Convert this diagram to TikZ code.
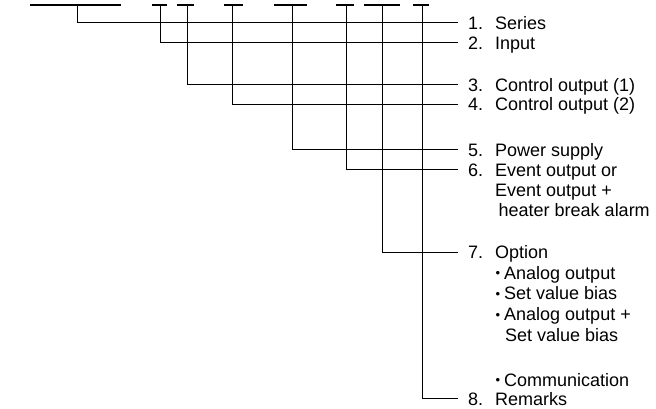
\documentclass[tikz,border=0pt]{standalone}
\usepackage{fontspec}
\setmainfont{Liberation Sans}
\begin{document}
\begin{tikzpicture}[x=1pt,y=-1pt,
  bar/.style={line width=2.2pt},
  conn/.style={line width=1pt},
  lab/.style={anchor=west,inner xsep=10pt,inner ysep=0pt,text height=13pt,text depth=0pt,outer sep=0pt,font=\fontsize{18}{20.5}\selectfont},
  cont/.style={anchor=base west,inner sep=0pt,font=\fontsize{18}{20.5}\selectfont}]
\useasboundingbox (0,0) rectangle (656,409);
\newcommand{\numb}[1]{\makebox[27pt][l]{#1}}
\newcommand{\bul}{\makebox[9pt][l]{\hspace{0.5pt}\raisebox{1.4pt}{\fontsize{13}{13}\selectfont •}}}
% top bars
\draw[bar] (30,5) -- (121,5);
\draw[bar] (152,5) -- (167,5);
\draw[bar] (177,5) -- (194,5);
\draw[bar] (224,5) -- (243,5);
\draw[bar] (274,5) -- (307,5);
\draw[bar] (336,5) -- (354,5);
\draw[bar] (364,5) -- (400,5);
\draw[bar] (413,5) -- (429,5);
\coordinate (b1) at (77,5);
\coordinate (b2) at (160,5);
\coordinate (b3) at (187,5);
\coordinate (b4) at (232,5);
\coordinate (b5) at (292,5);
\coordinate (b6) at (346,5);
\coordinate (b7) at (382,5);
\coordinate (b8) at (422,5);
% labels
\node[lab] (L1) at (458,23) {\numb{1.}Series};
\node[lab] (L2) at (458,43) {\numb{2.}Input};
\node[lab] (L3) at (458,85) {\numb{3.}Control output (1)};
\node[lab] (L4) at (458,104.5) {\numb{4.}Control output (2)};
\node[lab] (L5) at (458,150) {\numb{5.}Power supply};
\node[lab] (L6) at (458,170) {\numb{6.}Event output or};
\node[cont] (L6b) at (495,196.5) {Event output +};
\node[cont] (L6c) at (498.5,216.5) {heater break alarm};
\node[lab] (L7) at (458,252) {\numb{7.}Option};
\node[cont] (L7a) at (495,279.2) {\bul Analog output};
\node[cont] (L7b) at (495,299.9) {\bul Set value bias};
\node[cont] (L7c) at (495,320.6) {\bul Analog output +};
\node[cont] (L7d) at (505,341.3) {Set value bias};
\node[cont] (L7e) at (495,386) {\bul Communication};
\node[lab] (L8) at (458,398.5) {\numb{8.}Remarks};
% connectors
\draw[conn] (b1) |- (L1);
\draw[conn] (b2) |- (L2);
\draw[conn] (b3) |- (L3);
\draw[conn] (b4) |- (L4);
\draw[conn] (b5) |- (L5);
\draw[conn] (b6) |- (L6);
\draw[conn] (b7) |- (L7);
\draw[conn] (b8) |- (L8);
\end{tikzpicture}
\end{document}
